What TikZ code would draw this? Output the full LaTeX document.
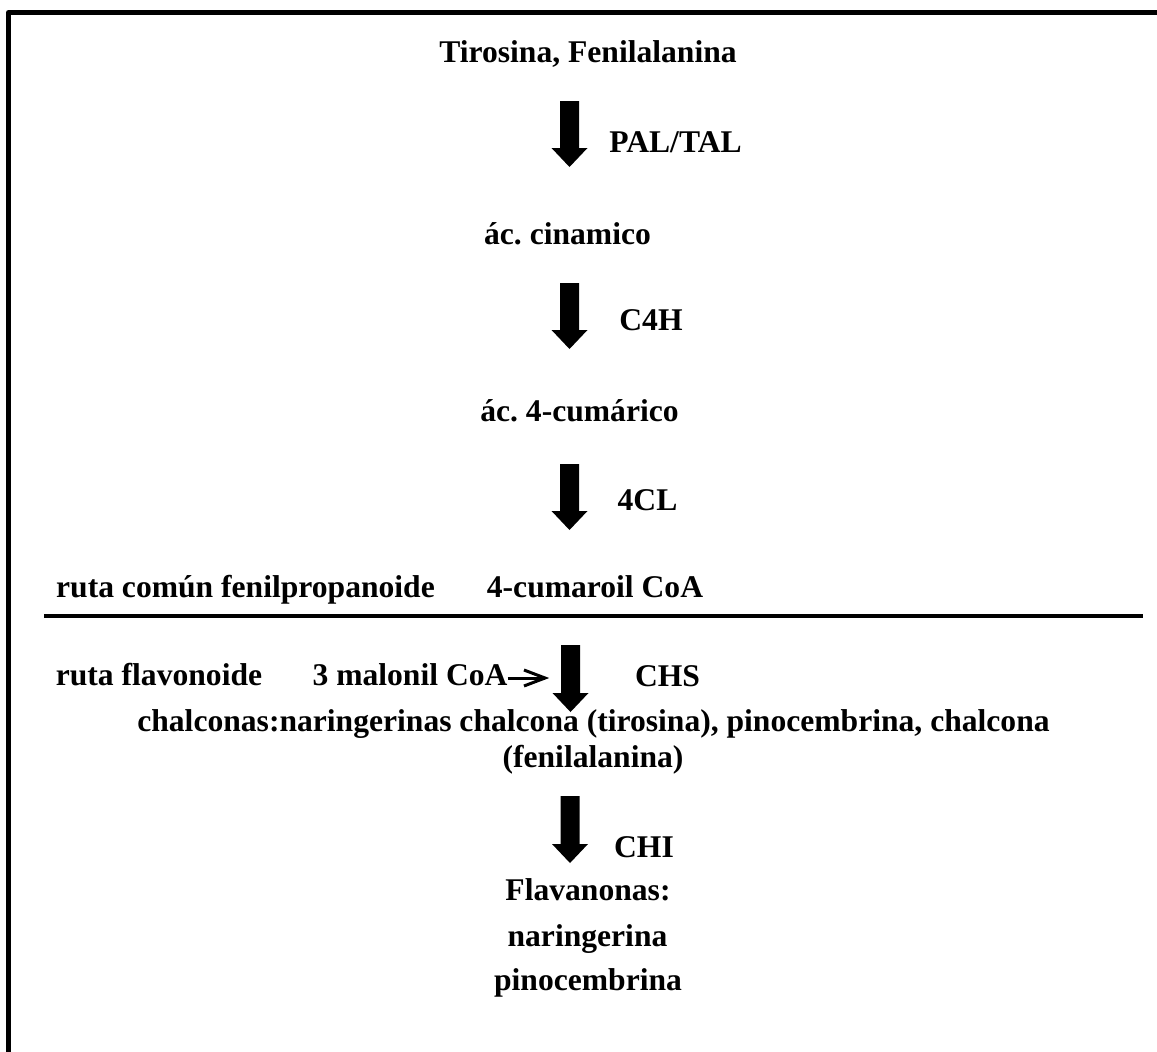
\documentclass[tikz,border=0pt]{standalone}
\usepackage{fontspec}
\setmainfont{Liberation Serif}
\usetikzlibrary{calc}
\frenchspacing

% filled block arrow from a top point (#1) down to a tip point (#2)
\newcommand{\blockarrow}[2]{%
  \fill let \p1=(#1), \p2=(#2) in
    (\x1-9.5pt,\y1) -- (\x1+9.5pt,\y1) -- (\x1+9.5pt,\y2+19pt) --
    (\x1+18pt,\y2+19pt) -- (\x1,\y2) -- (\x1-18pt,\y2+19pt) --
    (\x1-9.5pt,\y2+19pt) -- cycle;}

\begin{document}
\begin{tikzpicture}[x=1pt,y=-1pt,
  lbl/.style={anchor=base, inner sep=0pt,
    font=\fontsize{31.6}{36}\selectfont\bfseries\frenchspacing},
  rule/.style={line width=4pt},
  frame/.style={line width=5pt, line join=round},
  thinarrow/.style={line width=3pt, line join=miter}]

\useasboundingbox (0,0) rectangle (1157,1052);

% outer frame (left and top sides)
\draw[frame] (8.5,1052) -- (8.5,12.5) -- (1157,12.5);

% common phenylpropanoid pathway
\node[lbl] (tyr)  at (588,62)    {Tirosina, Fenilalanina};
\node[lbl] (pal)  at (675.5,152) {PAL/TAL};
\node[lbl] (cin)  at (567.5,244) {ác. cinamico};
\node[lbl] (c4h)  at (651,330)   {C4H};
\node[lbl] (cum)  at (579.5,421) {ác. 4-cumárico};
\node[lbl] (fcl)  at (647.5,510) {4CL};
\node[lbl] (rcf)  at (245.5,597) {ruta común fenilpropanoide};
\node[lbl] (coa)  at (595,597)   {4-cumaroil CoA};

% separator between the two pathways
\coordinate (sepL) at (44,616);
\coordinate (sepR) at (1143,616);
\draw[rule] (sepL) -- (sepR);

% flavonoid pathway
\node[lbl] (rfl)  at (159,685)   {ruta flavonoide};
\node[lbl] (mal)  at (410,685)   {3 malonil CoA};
\node[lbl] (chs)  at (667.5,686) {CHS};
\node[lbl] (chl1) at (593.5,731) {chalconas:naringerinas chalcona (tirosina), pinocembrina, chalcona};
\node[lbl] (chl2) at (593,767)   {(fenilalanina)};
\node[lbl] (chi)  at (644,857)   {CHI};
\node[lbl] (fla)  at (588,900)   {Flavanonas:};
\node[lbl] (nar)  at (587.5,946) {naringerina};
\node[lbl] (pin)  at (588,990)   {pinocembrina};

% reaction arrows
\coordinate (a1s) at (569.5,101); \coordinate (a1e) at (569.5,167);
\coordinate (a2s) at (569.5,283); \coordinate (a2e) at (569.5,349);
\coordinate (a3s) at (569.5,464); \coordinate (a3e) at (569.5,530);
\coordinate (a4s) at (570.5,645); \coordinate (a4e) at (570.5,712);
\coordinate (a5s) at (570,796);   \coordinate (a5e) at (570,863);
\blockarrow{a1s}{a1e}
\blockarrow{a2s}{a2e}
\blockarrow{a3s}{a3e}
\blockarrow{a4s}{a4e}
\blockarrow{a5s}{a5e}

% malonyl-CoA feeding into the CHS step
\coordinate (mtip) at (545,678);
\draw[thinarrow] (mal.east |- mtip) -- (mtip);
\draw[thinarrow] ($(mtip)+(-21,-8)$) -- (mtip) -- ($(mtip)+(-21,8)$);

\end{tikzpicture}
\end{document}
